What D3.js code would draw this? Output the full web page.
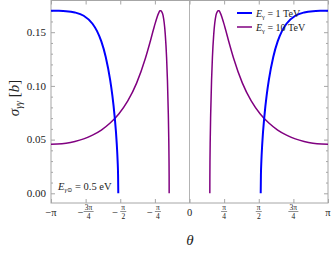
<!DOCTYPE html>
<html><head><meta charset="utf-8">
<script src="https://cdn.jsdelivr.net/npm/d3@7"></script>
<style>
body{margin:0;background:#fff}
svg{display:block}
text{font-family:"Liberation Serif","DejaVu Serif",serif;fill:#222}
</style>
</head><body>
<svg id="c" width="332" height="253"></svg>
<script>
const PI = Math.PI;

// E_gamma = 1 TeV (blue); null separates the two branches
const blueTheta = [-PI, -3.0, -2.8, -2.6, -2.4, -2.2, -2.1, -2.0, -1.9, -1.8, -1.75, -1.7, -1.65, -1.63, -1.62, -1.6153,
  null,
  1.6153, 1.62, 1.63, 1.65, 1.7, 1.75, 1.8, 1.9, 2.0, 2.1, 2.2, 2.4, 2.6, 2.8, 3.0, PI];
const blueSigma = [0.1700, 0.1699, 0.1696, 0.1684, 0.1653, 0.1579, 0.1512, 0.1414, 0.1270, 0.1056, 0.0911, 0.0724, 0.0460, 0.0297, 0.0168, 0,
  null,
  0, 0.0168, 0.0297, 0.0460, 0.0724, 0.0911, 0.1056, 0.1270, 0.1414, 0.1512, 0.1579, 0.1653, 0.1684, 0.1696, 0.1699, 0.1700];

// E_gamma = 10 TeV (purple)
const purpleTheta = [-PI, -3.0, -2.8, -2.6, -2.4, -2.2, -2.0, -1.8, -1.6, -1.4, -1.2, -1.0, -0.9, -0.8, -0.7, -0.67, -0.65, -0.63, -0.6, -0.55, -0.52, -0.5, -0.48, -0.47, -0.465, -0.462, -0.4611,
  null,
  0.4611, 0.462, 0.465, 0.47, 0.48, 0.5, 0.52, 0.55, 0.6, 0.63, 0.65, 0.67, 0.7, 0.8, 0.9, 1.0, 1.2, 1.4, 1.6, 1.8, 2.0, 2.2, 2.4, 2.6, 2.8, 3.0, PI];
const purpleSigma = [0.0457, 0.0459, 0.0467, 0.0483, 0.0507, 0.0542, 0.0589, 0.0654, 0.0741, 0.0860, 0.1026, 0.1257, 0.1399, 0.1551, 0.1678, 0.1699, 0.1700, 0.1690, 0.1656, 0.1482, 0.1267, 0.1048, 0.0729, 0.0494, 0.0323, 0.0153, 0,
  null,
  0, 0.0153, 0.0323, 0.0494, 0.0729, 0.1048, 0.1267, 0.1482, 0.1656, 0.1690, 0.1700, 0.1699, 0.1678, 0.1551, 0.1399, 0.1257, 0.1026, 0.0860, 0.0741, 0.0654, 0.0589, 0.0542, 0.0507, 0.0483, 0.0467, 0.0459, 0.0457];

const xTickValues = [-PI, -3*PI/4, -PI/2, -PI/4, 0, PI/4, PI/2, 3*PI/4, PI];
const xTickSign = ["−", "−", "−", "−", "", "", "", "", ""];
const xTickNum  = ["π", "3π", "π", "π", "0", "π", "π", "3π", "π"];
const xTickDen  = ["", "4", "2", "4", "", "4", "2", "4", ""];
const yTickValues = [0, 0.05, 0.10, 0.15];
const yTickLabels = ["0.00", "0.05", "0.10", "0.15"];
const yMinorValues = [0.01,0.02,0.03,0.04,0.06,0.07,0.08,0.09,0.11,0.12,0.13,0.14,0.16,0.17];

const seriesNames = ["1 TeV", "10 TeV"];
const seriesColors = ["#0000ff", "#800080"];

const L = 51, R = 328, T = 0.5, B = 203;
const svg = d3.select("#c");
const x = d3.scaleLinear().domain([-PI, PI]).range([L, R]);
const y = d3.scaleLinear().domain([0, 0.15]).range([193.3, 32.2]);

const frameCol = "#a6a6a6";

// zero axis
svg.append("line").attr("x1", x(0)).attr("x2", x(0)).attr("y1", T).attr("y2", B)
  .attr("stroke", "#b3b3b3").attr("stroke-width", 1);

// axes (inward ticks)
function styleAxis(g){
  g.select(".domain").remove();
  g.selectAll(".tick line").attr("stroke", frameCol);
  g.selectAll("text").remove();
}
svg.append("g").attr("transform", `translate(${L},0)`)
  .call(d3.axisLeft(y).tickValues(yTickValues).tickSize(-4)).call(styleAxis);
svg.append("g").attr("transform", `translate(${L},0)`)
  .call(d3.axisLeft(y).tickValues(yMinorValues).tickSize(-2)).call(styleAxis);
svg.append("g").attr("transform", `translate(${R},0)`)
  .call(d3.axisRight(y).tickValues(yTickValues).tickSize(-4)).call(styleAxis);
svg.append("g").attr("transform", `translate(${R},0)`)
  .call(d3.axisRight(y).tickValues(yMinorValues).tickSize(-2)).call(styleAxis);
svg.append("g").attr("transform", `translate(0,${B})`)
  .call(d3.axisBottom(x).tickValues(xTickValues).tickSize(-4)).call(styleAxis);
svg.append("g").attr("transform", `translate(0,${T})`)
  .call(d3.axisTop(x).tickValues(xTickValues).tickSize(-4)).call(styleAxis);

// frame
svg.append("rect").attr("x", L).attr("y", T).attr("width", R-L).attr("height", B-T)
  .attr("fill", "none").attr("stroke", frameCol).attr("stroke-width", 1);

// y tick labels
svg.append("g").selectAll("text").data(yTickValues).join("text")
  .attr("x", L-5).attr("y", d => y(d)+3.8).attr("text-anchor", "end")
  .attr("font-size", 11).text((d,i) => yTickLabels[i]);

// x tick labels
const xl = svg.append("g");
xTickValues.forEach((v,i) => {
  const cx = x(v);
  const g = xl.append("g");
  if (xTickDen[i] === "") {
    const t = g.append("text").attr("x", cx).attr("y", 216).attr("text-anchor", "middle").attr("font-size", 10.5);
    if (xTickSign[i]) t.append("tspan").text(xTickSign[i]);
    t.append("tspan").text(xTickNum[i]);
  } else {
    const fx = xTickSign[i] ? cx + 3 : cx;
    if (xTickSign[i]) g.append("text").attr("x", fx - 5).attr("y", 215.5).attr("text-anchor", "end").attr("font-size", 10.5).text(xTickSign[i]);
    g.append("text").attr("x", fx).attr("y", 209.5).attr("text-anchor", "middle").attr("font-size", 7.5).text(xTickNum[i]);
    const w = xTickNum[i].length > 1 ? 5 : 3;
    g.append("line").attr("x1", fx-w).attr("x2", fx+w).attr("y1", 211.5).attr("y2", 211.5).attr("stroke", "#444").attr("stroke-width", 0.6);
    g.append("text").attr("x", fx).attr("y", 218.5).attr("text-anchor", "middle").attr("font-size", 7.5).text(xTickDen[i]);
  }
});

// clip
svg.append("clipPath").attr("id", "clip").append("rect")
  .attr("x", L).attr("y", T).attr("width", R-L).attr("height", B-T);

const line = d3.line()
  .defined(d => d[1] !== null)
  .x(d => x(d[0])).y(d => y(d[1]))
  .curve(d3.curveMonotoneX);

const plotG = svg.append("g").attr("clip-path", "url(#clip)");
plotG.append("path").datum(d3.zip(purpleTheta, purpleSigma))
  .attr("d", line).attr("fill", "none").attr("stroke", seriesColors[1]).attr("stroke-width", 1.5);
plotG.append("path").datum(d3.zip(blueTheta, blueSigma))
  .attr("d", line).attr("fill", "none").attr("stroke", seriesColors[0]).attr("stroke-width", 2);

// legend
seriesNames.forEach((n,i) => {
  const ly = 13 + i*14;
  svg.append("line").attr("x1", 237).attr("x2", 252).attr("y1", ly).attr("y2", ly)
    .attr("stroke", seriesColors[i]).attr("stroke-width", i===0 ? 2 : 1.5);
  const t = svg.append("text").attr("x", 256).attr("y", ly+3.5).attr("font-size", 10);
  t.append("tspan").attr("font-style", "italic").text("E");
  t.append("tspan").attr("font-size", 6.5).attr("dy", 2).text("γ");
  t.append("tspan").attr("dy", -2).text(" = " + n);
});

// annotation
const an = svg.append("text").attr("x", 58).attr("y", 190).attr("font-size", 10.5);
an.append("tspan").attr("font-style", "italic").text("E");
an.append("tspan").attr("font-size", 6.5).attr("dy", 2).attr("font-style", "italic").text("γ⊙");
an.append("tspan").attr("dy", -2).text(" = 0.5 eV");

// axis titles
svg.append("text").attr("x", 190).attr("y", 245).attr("text-anchor", "middle")
  .attr("font-size", 15).attr("font-style", "italic").text("θ");
const yt = svg.append("text").attr("transform", "translate(19,98) rotate(-90)")
  .attr("text-anchor", "middle").attr("font-size", 15);
yt.append("tspan").attr("font-style", "italic").text("σ");
yt.append("tspan").attr("font-size", 10).attr("dy", 3).attr("font-style", "italic").text("γγ");
yt.append("tspan").attr("dy", -3).text(" [");
yt.append("tspan").attr("font-style", "italic").text("b");
yt.append("tspan").text("]");
</script>
</body></html>
